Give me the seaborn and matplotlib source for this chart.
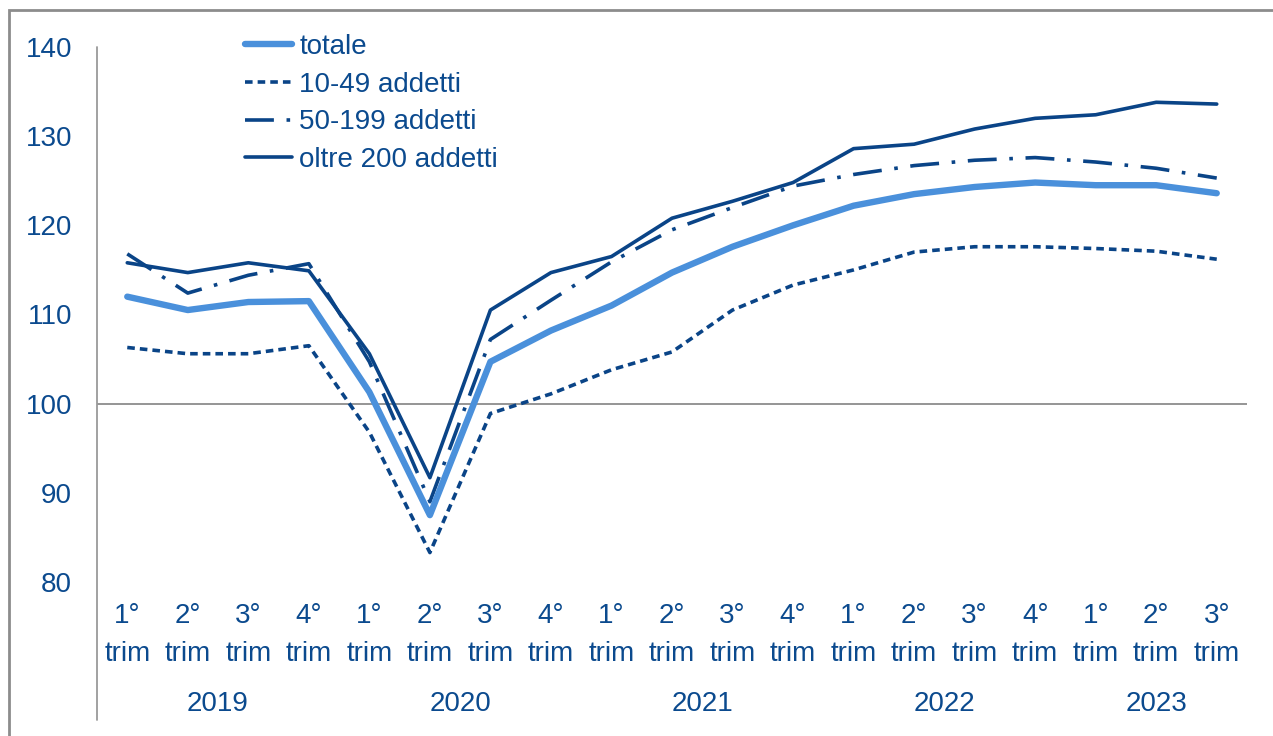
import numpy as np
import pandas as pd
import seaborn as sns
import matplotlib
matplotlib.use("Agg")
import matplotlib.pyplot as plt
import matplotlib.transforms as mtransforms
from matplotlib.lines import Line2D
from matplotlib.patches import Rectangle

quarters = ["1°", "2°", "3°", "4°"] * 4 + ["1°", "2°", "3°"]
years = ["2019", "2020", "2021", "2022", "2023"]
year_quarters = [4, 4, 4, 4, 3]

totale = [112.0, 110.5, 111.4, 111.5, 101.3, 87.5, 104.7, 108.2, 111.0, 114.7,
          117.6, 120.0, 122.2, 123.5, 124.3, 124.8, 124.5, 124.5, 123.6]
addetti_10_49 = [106.3, 105.6, 105.6, 106.5, 96.8, 83.3, 98.9, 101.1, 103.8, 105.8,
                 110.5, 113.3, 115.0, 117.0, 117.6, 117.6, 117.4, 117.1, 116.2]
addetti_50_199 = [116.8, 112.4, 114.4, 115.7, 104.7, 89.0, 107.2, 111.6, 115.9, 119.5,
                  122.0, 124.4, 125.7, 126.7, 127.3, 127.6, 127.1, 126.4, 125.3]
oltre_200 = [115.8, 114.7, 115.8, 114.9, 105.6, 91.7, 110.5, 114.7, 116.5, 120.8,
             122.7, 124.8, 128.6, 129.1, 130.8, 132.0, 132.4, 133.8, 133.6]

series_names = ["totale", "10-49 addetti", "50-199 addetti", "oltre 200 addetti"]
series_values = [totale, addetti_10_49, addetti_50_199, oltre_200]

navy = "#0A4487"
light = "#4A90DB"
text_col = "#0B4A8E"
FS = 20

sns.set_theme(style="white")
plt.rcParams["font.family"] = ["Liberation Sans", "DejaVu Sans"]

fig = plt.figure(figsize=(12.73, 7.36), dpi=100)
ax = fig.add_axes([97 / 1273, 1 - 582 / 736, (1247 - 97) / 1273, (582 - 47) / 736])

x = np.arange(len(quarters))
styles = [
    dict(color=light, lw=4.6, ls="-"),
    dict(color=navy, lw=2.6, dashes=(2.1, 1.4)),
    dict(color=navy, lw=2.6, dashes=(8, 3.5, 1, 3.5)),
    dict(color=navy, lw=2.6, ls="-"),
]
order = [1, 2, 3, 0]
for i in order:
    df = pd.DataFrame({"x": x, "y": series_values[i]})
    st = dict(styles[i])
    sns.lineplot(data=df, x="x", y="y", ax=ax, color=st.pop("color"),
                 linewidth=st.pop("lw"), label=series_names[i], zorder=3 + (i == 0), **st)

ax.axhline(100, color="#8C8C8C", lw=1.3, zorder=1)
ax.set_xlim(-0.5, len(quarters) - 0.5)
ax.set_ylim(80, 140)
ax.set_yticks(np.arange(80, 141, 10))
ax.set_xticks(x)
ax.set_xticklabels([q + "\ntrim" for q in quarters], linespacing=1.6)
ax.tick_params(axis="both", length=0, labelsize=FS, colors=text_col)
ax.tick_params(axis="x", pad=15)
ax.tick_params(axis="y", pad=18)
ax.set_xlabel("")
ax.set_ylabel("")
for s in ax.spines.values():
    s.set_visible(False)

# y-axis line extending below plot
fig.add_artist(Line2D([97 / 1273, 97 / 1273], [1 - 47 / 736, 1 - 720 / 736],
                      transform=fig.transFigure, color="#9A9A9A", lw=1.3))
# outer frame
fig.add_artist(Rectangle((9 / 1273, -0.05), 1.1, 1 - 10 / 736 + 0.05,
                         transform=fig.transFigure, fill=False, edgecolor="#8C8C8C", lw=2))

# year labels
trans = mtransforms.blended_transform_factory(ax.transData, fig.transFigure)
start = 0
for yname, n in zip(years, year_quarters):
    center = start + (n - 1) / 2
    ax.text(center, 1 - 704 / 736, yname, transform=trans, ha="center",
            va="center", fontsize=FS, color=text_col)
    start += n

h, l = ax.get_legend_handles_labels()
hd = dict(zip(l, h))
leg = ax.legend([hd[n] for n in series_names], series_names, loc="upper left",
                bbox_to_anchor=(0.119, 1.045), frameon=False, fontsize=FS,
                handlelength=1.7, handletextpad=0.25, labelspacing=0.42, borderaxespad=0)
for t in leg.get_texts():
    t.set_color(text_col)

fig.savefig("out.png", dpi=100)
